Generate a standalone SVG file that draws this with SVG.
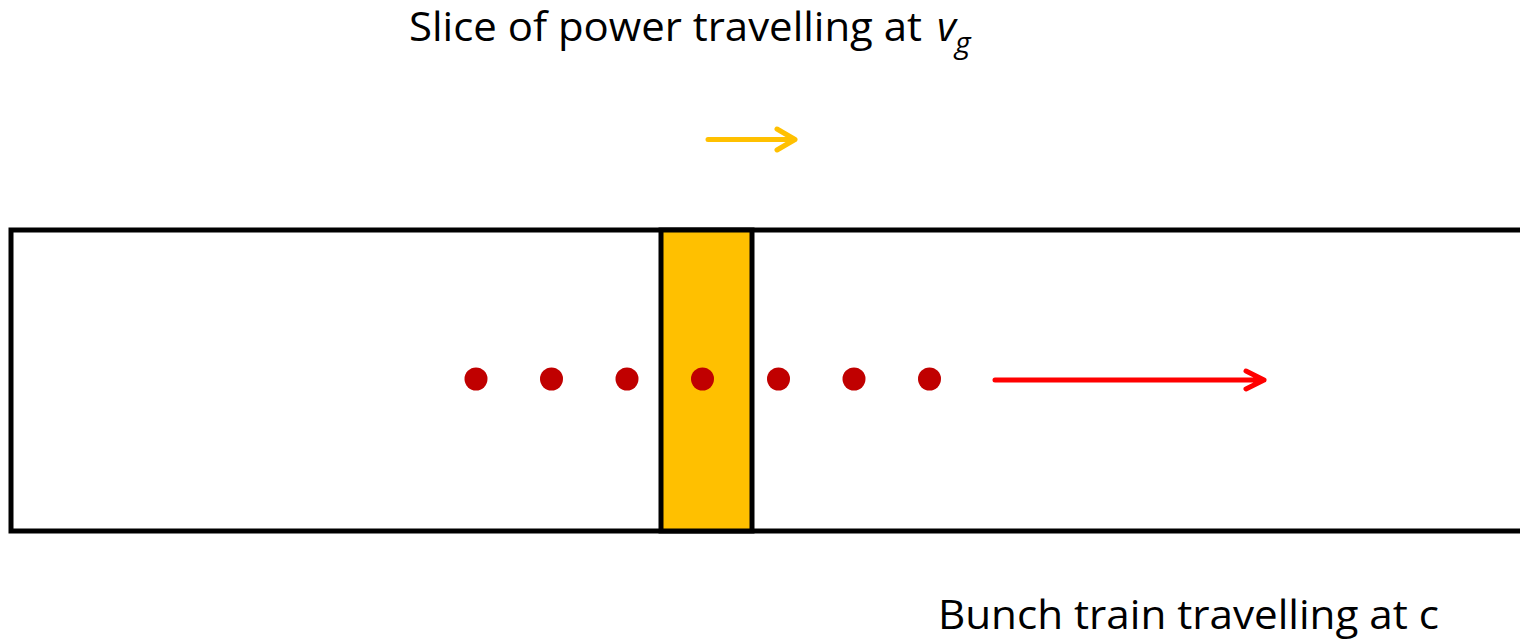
<svg xmlns="http://www.w3.org/2000/svg" width="1520" height="639" viewBox="0 0 1520 639">
<style>
.lbl{font-family:"Open Sans","Liberation Sans",sans-serif;font-size:41px;fill:#000}
.it{font-style:italic}
.box{fill:none;stroke:#000;stroke-width:5}
.slice{fill:#FFC000;stroke:#000;stroke-width:5}
.bunch{fill:#C00000}
.yarr{fill:none;stroke:#FFC000;stroke-width:5;stroke-linecap:round;stroke-linejoin:round}
.rarr{fill:none;stroke:#FF0000;stroke-width:5;stroke-linecap:round;stroke-linejoin:round}
</style>
<rect width="1520" height="639" fill="#fff"/>
<g id="waveguide">
<rect class="box" x="11" y="230" width="1530" height="301"/>
</g>
<g id="power-slice">
<rect class="slice" x="661" y="230" width="91" height="301"/>
</g>
<g id="bunches">
<circle class="bunch" cx="476" cy="379" r="11.5"/>
<circle class="bunch" cx="551.5" cy="379" r="11.5"/>
<circle class="bunch" cx="627" cy="379" r="11.5"/>
<circle class="bunch" cx="702.5" cy="379" r="11.5"/>
<circle class="bunch" cx="778.5" cy="379" r="11.5"/>
<circle class="bunch" cx="854" cy="379" r="11.5"/>
<circle class="bunch" cx="929.5" cy="379" r="11.5"/>
</g>
<g id="connectors">
<path class="yarr" d="M708 139.5H795M777 129L795 139.5L777 150"/>
<path class="rarr" d="M995 380H1264M1246 371L1264 380L1246 389"/>
</g>
<g id="label-slice">
<text class="lbl" x="409" y="41" textLength="513" lengthAdjust="spacingAndGlyphs">Slice of power travelling at</text>
<text class="lbl it" x="937" y="41">v</text>
<text class="lbl it" x="955" y="53" style="font-size:30px">g</text>
</g>
<g id="label-bunch">
<text class="lbl" x="938" y="629" textLength="501" lengthAdjust="spacingAndGlyphs">Bunch train travelling at c</text>
</g>
</svg>
